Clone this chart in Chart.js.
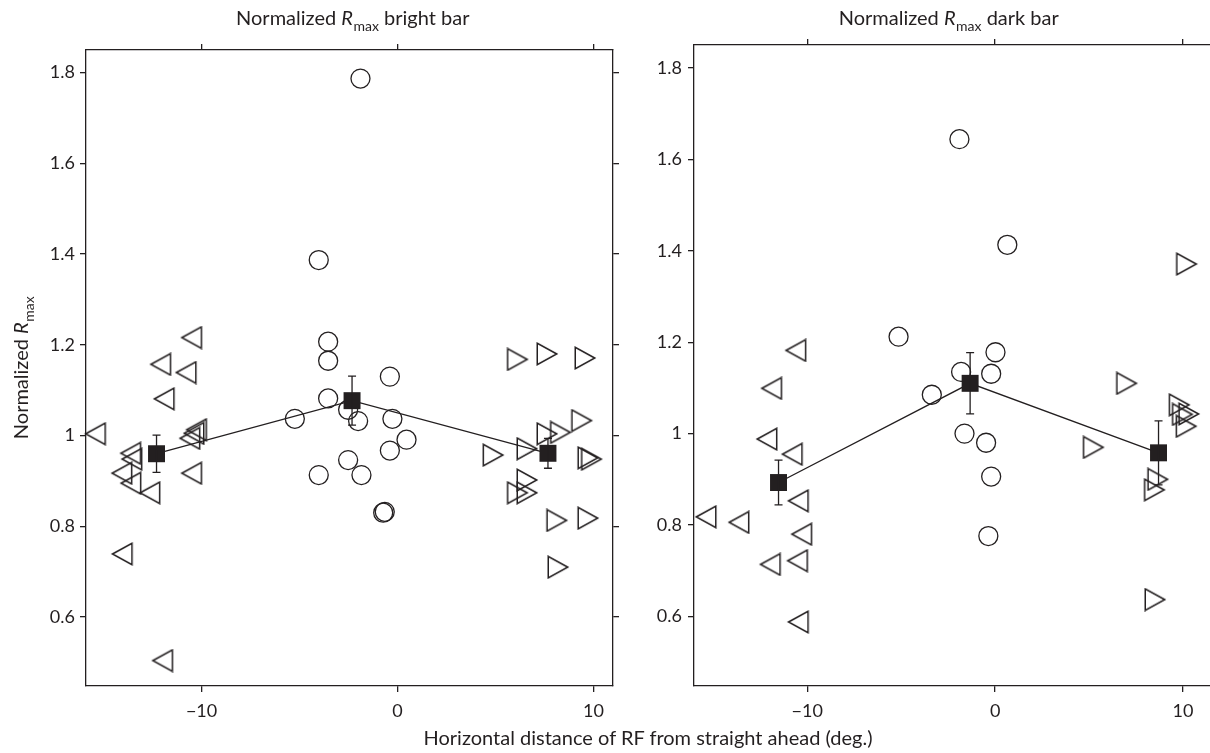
<!DOCTYPE html>
<html><head><meta charset="utf-8">
<script src="https://cdn.jsdelivr.net/npm/chart.js@4.4.1/dist/chart.umd.min.js"></script>
<style>
html,body{margin:0;padding:0;background:#fff;overflow:hidden;width:1210px;height:753px;position:relative;}
#c1{position:absolute;left:0;top:0;}
#c2{position:absolute;left:645px;top:0;}
#xt{position:absolute;left:43px;width:1210px;top:725px;text-align:center;font-family:Lato,sans-serif;font-size:20px;line-height:24px;color:#231f20;white-space:nowrap;}
</style></head>
<body>
<canvas id="c1" width="645" height="753"></canvas>
<canvas id="c2" width="608" height="753"></canvas>
<div id="xt">Horizontal distance of RF from straight ahead (deg.)</div>
<script>
// ---------- data ----------
const xTickVals = [-10, 0, 10];
const yTickVals = [0.6, 0.8, 1, 1.2, 1.4, 1.6, 1.8];

// bright bar panel
const brightLeftX  = [-15.42, -13.62, -13.56, -14.07, -13.61, -12.64, -12.09, -11.91, -10.51, -10.79, -10.60, -10.39, -10.26, -10.51, -14.05, -11.99];
const brightLeftY  = [1.004, 0.961, 0.948, 0.917, 0.895, 0.874, 1.157, 1.081, 1.216, 1.139, 0.994, 1.005, 1.013, 0.917, 0.739, 0.504];
const brightMidX   = [-1.89, -4.02, -3.54, -3.54, -0.39, -3.54, -2.52, -5.24, -2.01, -0.26, 0.46, -0.39, -2.52, -4.02, -1.84, -0.65, -0.73];
const brightMidY   = [1.787, 1.387, 1.207, 1.165, 1.130, 1.082, 1.057, 1.037, 1.032, 1.037, 0.991, 0.967, 0.946, 0.913, 0.913, 0.832, 0.830];
const brightRightX = [6.12, 7.63, 9.57, 9.40, 7.63, 8.32, 6.61, 4.88, 9.72, 9.90, 6.61, 6.61, 6.12, 8.13, 9.72, 8.19];
const brightRightY = [1.168, 1.180, 1.171, 1.033, 1.004, 1.007, 0.971, 0.957, 0.951, 0.948, 0.902, 0.874, 0.874, 0.813, 0.818, 0.710];
const brightMeanX  = [-12.30, -2.32, 7.68];
const brightMeanY  = [0.960, 1.077, 0.961];
const brightMeanErr = [0.041, 0.054, 0.033];

// dark bar panel
const darkLeftX  = [-10.61, -11.90, -12.15, -10.80, -10.48, -15.39, -13.64, -10.30, -11.97, -10.52, -10.48];
const darkLeftY  = [1.182, 1.099, 0.988, 0.955, 0.853, 0.818, 0.806, 0.780, 0.714, 0.722, 0.588];
const darkMidX   = [-1.90, 0.65, -5.14, 0.02, -1.81, -0.21, -3.37, -1.63, -0.48, -0.21, -0.36];
const darkMidY   = [1.644, 1.413, 1.212, 1.178, 1.135, 1.131, 1.085, 1.000, 0.980, 0.906, 0.776];
const darkRightX = [10.19, 7.00, 9.80, 9.97, 10.31, 10.17, 5.23, 8.66, 8.48, 8.51];
const darkRightY = [1.371, 1.110, 1.063, 1.042, 1.043, 1.016, 0.970, 0.900, 0.877, 0.637];
const darkMeanX  = [-11.53, -1.33, 8.70];
const darkMeanY  = [0.893, 1.110, 0.958];
const darkMeanErr = [0.049, 0.067, 0.070];

// ---------- styling ----------
const INK = '#231f20';
const FONT = 'Lato, "Open Sans", sans-serif';
const LW = 1.3;

function triCanvas(dir) {
  const c = document.createElement('canvas');
  c.width = 24; c.height = 24;
  const g = c.getContext('2d');
  g.strokeStyle = INK; g.lineWidth = 1.5; g.lineJoin = 'miter';
  const d = 19.5 / 2, b = 21.5 / 2, cx = 12, cy = 12;
  g.beginPath();
  if (dir < 0) { g.moveTo(cx - d, cy); g.lineTo(cx + d, cy - b); g.lineTo(cx + d, cy + b); }
  else { g.moveTo(cx + d, cy); g.lineTo(cx - d, cy - b); g.lineTo(cx - d, cy + b); }
  g.closePath(); g.stroke();
  return c;
}
const triLeft = triCanvas(-1), triRight = triCanvas(1);

const zip = (xs, ys) => xs.map((x, i) => ({ x: x, y: ys[i] }));
const fmtX = v => v < 0 ? '\u2212' + Math.abs(v) : String(v);

function drawRmax(ctx, pre, post, size) {
  const reg = size + 'px ' + FONT, ita = 'italic ' + size + 'px ' + FONT, sub = Math.round(size * 0.72) + 'px ' + FONT;
  ctx.font = reg; const w1 = ctx.measureText(pre).width, w4 = post ? ctx.measureText(post).width : 0;
  ctx.font = ita; const w2 = ctx.measureText('R').width;
  ctx.font = sub; const w3 = ctx.measureText('max').width;
  let x = -(w1 + w2 + w3 + w4) / 2;
  ctx.fillStyle = INK; ctx.textBaseline = 'alphabetic'; ctx.textAlign = 'left';
  ctx.font = reg; ctx.fillText(pre, x, 0); x += w1;
  ctx.font = ita; ctx.fillText('R', x, 0); x += w2 + 0.5;
  ctx.font = sub; ctx.fillText('max', x, size * 0.28); x += w3;
  if (post) { ctx.font = reg; ctx.fillText(post, x, 0); }
}

const labelsPlugin = {
  id: 'labels',
  afterDraw(chart, args, opts) {
    const ctx = chart.ctx, a = chart.chartArea;
    ctx.save();
    ctx.translate((a.left + a.right) / 2 + (opts.titleDx || 0), opts.titleY);
    drawRmax(ctx, 'Normalized ', opts.titlePost, 20);
    ctx.restore();
    if (opts.yTitle) {
      ctx.save();
      ctx.translate(opts.yTitleX, (a.top + a.bottom) / 2);
      ctx.rotate(-Math.PI / 2);
      drawRmax(ctx, 'Normalized ', '', 20);
      ctx.restore();
    }
  }
};

const errPlugin = {
  id: 'errbars',
  afterDatasetsDraw(chart, args, opts) {
    const ctx = chart.ctx, xs = chart.scales.x, ys = chart.scales.y;
    ctx.save();
    ctx.strokeStyle = INK; ctx.lineWidth = LW;
    opts.x.forEach((xv, i) => {
      const px = xs.getPixelForValue(xv);
      const top = ys.getPixelForValue(opts.y[i] + opts.err[i]);
      const bot = ys.getPixelForValue(opts.y[i] - opts.err[i]);
      ctx.beginPath();
      ctx.moveTo(px, top); ctx.lineTo(px, bot);
      ctx.moveTo(px - 4, top); ctx.lineTo(px + 4, top);
      ctx.moveTo(px - 4, bot); ctx.lineTo(px + 4, bot);
      ctx.stroke();
    });
    ctx.restore();
  }
};

function axis(pos, min, max, tickVals, size, showLabels, pad, cb, show) {
  const horiz = pos === 'bottom' || pos === 'top';
  return {
    type: 'linear', position: pos, min: min, max: max, display: show !== false,
    afterBuildTicks: s => { s.ticks = tickVals.map(v => ({ value: v })); },
    afterFit: s => { if (horiz) s.height = size; else s.width = size; },
    grid: { drawOnChartArea: false, drawTicks: true, tickLength: 6, color: INK, lineWidth: LW, tickWidth: LW },
    border: { display: true, color: INK, width: LW },
    ticks: { display: showLabels, color: INK, font: { family: FONT, size: 18 }, padding: pad, callback: cb || (v => String(v)), autoSkip: false, maxRotation: 0 }
  };
}

function makeChart(id, d) {
  return new Chart(document.getElementById(id), {
    type: 'scatter',
    data: {
      datasets: [
        { data: zip(d.meanX, d.meanY), showLine: true, borderColor: INK, borderWidth: LW, pointStyle: 'rect', pointRadius: 12, pointBackgroundColor: INK, pointBorderColor: INK, pointBorderWidth: 0, clip: false },
        { data: zip(d.midX, d.midY), pointStyle: 'circle', pointRadius: 9.5, pointBorderColor: INK, pointBackgroundColor: 'rgba(0,0,0,0)', pointBorderWidth: LW, clip: false },
        { data: zip(d.leftX, d.leftY), pointStyle: triLeft, pointRadius: 10, clip: false },
        { data: zip(d.rightX, d.rightY), pointStyle: triRight, pointRadius: 10, clip: false }
      ]
    },
    options: {
      responsive: false, animation: false, events: [],
      layout: { padding: { left: 0, top: 0, bottom: 0, right: d.padRight } },
      plugins: {
        legend: { display: false }, tooltip: { enabled: false },
        errbars: { x: d.meanX, y: d.meanY, err: d.meanErr },
        labels: d.labels
      },
      scales: {
        x: axis('bottom', d.xmin, d.xmax, xTickVals, d.bottom, true, 8, fmtX),
        x2: axis('top', d.xmin, d.xmax, xTickVals, d.top, false, 0),
        y: axis('left', 0.448, 1.85, yTickVals, d.left, true, d.ypad),
        y2: axis('right', 0.448, 1.85, yTickVals, d.right, false, 0, null, d.showRight)
      }
    },
    plugins: [labelsPlugin, errPlugin]
  });
}

makeChart('c1', {
  leftX: brightLeftX, leftY: brightLeftY, midX: brightMidX, midY: brightMidY,
  rightX: brightRightX, rightY: brightRightY, meanX: brightMeanX, meanY: brightMeanY, meanErr: brightMeanErr,
  xmin: -15.9, xmax: 11.0, left: 86, right: 32, top: 50, bottom: 67, ypad: 5, padRight: 0, showRight: true,
  labels: { titlePost: ' bright bar', titleY: 25, titleDx: 3, yTitle: true, yTitleX: 28 }
});
makeChart('c2', {
  leftX: darkLeftX, leftY: darkLeftY, midX: darkMidX, midY: darkMidY,
  rightX: darkRightX, rightY: darkRightY, meanX: darkMeanX, meanY: darkMeanY, meanErr: darkMeanErr,
  xmin: -16.03, xmax: 11.6, left: 49, right: 0, top: 45, bottom: 67, ypad: 6, padRight: 40, showRight: false,
  labels: { titlePost: ' dark bar', titleY: 25, titleDx: -5, yTitle: false }
});
</script>
</body></html>
